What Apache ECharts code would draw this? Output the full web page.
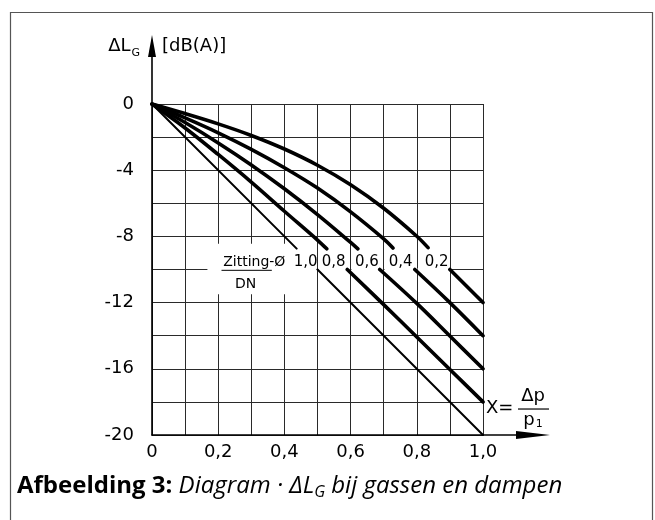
<!DOCTYPE html>
<html><head><meta charset="utf-8">
<script src="https://cdn.jsdelivr.net/npm/echarts@6/dist/echarts.min.js"></script>
<style>html,body{margin:0;padding:0;background:#fff}#c{width:655px;height:520px}</style>
</head><body><div id="c"></div>
<script>
// ---- data ----
const xLabelValues = [0, 0.2, 0.4, 0.6, 0.8, 1.0];
const xLabels = ['0', '0,2', '0,4', '0,6', '0,8', '1,0'];
const yLabelValues = [0, -4, -8, -12, -16, -20];
const yLabels = ['0', '-4', '-8', '-12', '-16', '-20'];
const ratioNames = ['1,0', '0,8', '0,6', '0,4', '0,2'];
const ratioLabelX = [0.464, 0.549, 0.649, 0.751, 0.860];
const ratioLabelY = -9.55;
// curves: ΔL_G [dB(A)] vs X (gap where the labels sit)
const curve10 = [[0, 0], [0.437, -8.74], [0.47, '-'], [0.5, -10], [1.0, -20]];
const curve08 = [[0, 0], [0.1, -1.45], [0.2, -3.05], [0.3, -4.72], [0.4, -6.48], [0.5, -8.22], [0.528, -8.75], [0.56, '-'], [0.59, -10], [0.7, -12.12], [0.8, -14.08], [0.9, -16.04], [1.0, -18]];
const curve06 = [[0, 0], [0.1, -1.12], [0.2, -2.35], [0.3, -3.68], [0.4, -5.12], [0.5, -6.68], [0.6, -8.36], [0.622, -8.75], [0.65, '-'], [0.688, -10], [0.8, -12.05], [0.9, -14.02], [1.0, -16]];
const curve04 = [[0, 0], [0.1, -0.84], [0.2, -1.74], [0.3, -2.74], [0.4, -3.85], [0.5, -5.08], [0.6, -6.52], [0.7, -8.15], [0.728, -8.7], [0.76, '-'], [0.794, -10], [0.9, -12], [1.0, -14]];
const curve02 = [[0, 0], [0.1, -0.58], [0.2, -1.2], [0.3, -1.9], [0.4, -2.72], [0.5, -3.7], [0.6, -4.88], [0.7, -6.3], [0.8, -7.99], [0.834, -8.68], [0.87, '-'], [0.9, -10], [1.0, -12]];

const FONT = 'DejaVu Sans';
function pick(v, vals, labs) {
  for (let i = 0; i < vals.length; i++) if (Math.abs(v - vals[i]) < 1e-6) return labs[i];
  return '';
}
const chart = echarts.init(document.getElementById('c'), null, {renderer: 'canvas'});
const curves = [
  {d: curve10, w: 2, sm: 0},
  {d: curve08, w: 3.6, sm: 0.35},
  {d: curve06, w: 3.6, sm: 0.35},
  {d: curve04, w: 3.6, sm: 0.35},
  {d: curve02, w: 3.6, sm: 0.35}
];
const option = {
  animation: false,
  grid: {left: 152, top: 104, width: 331, height: 331, containLabel: false},
  xAxis: {
    type: 'value', min: 0, max: 1, interval: 0.1,
    axisLine: {show: true, onZero: false, lineStyle: {color: '#000', width: 1.6}},
    axisTick: {show: false},
    splitLine: {show: true, lineStyle: {color: '#2a2a2a', width: 1}},
    axisLabel: {formatter: v => pick(v, xLabelValues, xLabels), color: '#000', fontFamily: FONT, fontSize: 18, margin: 8, showMinLabel: true, showMaxLabel: true}
  },
  yAxis: {
    type: 'value', min: -20, max: 0, interval: 2,
    axisLine: {show: true, onZero: false, lineStyle: {color: '#000', width: 1.6}},
    axisTick: {show: false},
    splitLine: {show: true, lineStyle: {color: '#2a2a2a', width: 1}},
    axisLabel: {formatter: v => pick(v, yLabelValues, yLabels), color: '#000', fontFamily: FONT, fontSize: 18, margin: 18, showMinLabel: true, showMaxLabel: true}
  },
  series: curves.map(c => ({
    type: 'line', data: c.d, symbol: 'none', showSymbol: false, smooth: c.sm, connectNulls: false,
    lineStyle: {color: '#000', width: c.w, cap: 'round', join: 'round'}, z: 3, silent: true
  }))
};
chart.setOption(option);

const P = (x, y) => chart.convertToPixel({xAxisIndex: 0, yAxisIndex: 0}, [x, y]);
const els = [];
function txt(text, x, y, size, align, extra) {
  els.push(Object.assign({type: 'text', z: 20, style: {text, x, y, fill: '#000', fontFamily: FONT, fontSize: size,
    align: align || 'center', verticalAlign: 'middle', textAlign: align || 'center', textVerticalAlign: 'middle'}}, extra || {}));
}
// border
els.push({type: 'rect', z: 20, shape: {x: 10.5, y: 12.5, width: 642, height: 530}, style: {fill: 'none', stroke: '#555', lineWidth: 1.2}});
// axis extensions and arrows
const o = P(0, 0), b1 = P(1, -20);
els.push({type: 'line', z: 20, shape: {x1: b1[0], y1: b1[1], x2: b1[0] + 36, y2: b1[1]}, style: {stroke: '#000', lineWidth: 1.6}});
els.push({type: 'polygon', z: 20, shape: {points: [[b1[0] + 33, b1[1] - 4], [b1[0] + 67, b1[1]], [b1[0] + 33, b1[1] + 4]]}, style: {fill: '#000'}});
els.push({type: 'line', z: 20, shape: {x1: o[0], y1: o[1], x2: o[0], y2: o[1] - 50}, style: {stroke: '#000', lineWidth: 1.6}});
els.push({type: 'polygon', z: 20, shape: {points: [[o[0] - 4, o[1] - 47], [o[0], o[1] - 69], [o[0] + 4, o[1] - 47]]}, style: {fill: '#000'}});
// white cover for the label area (breaks the grid lines)
const zA = P(0.172, -8.45), zB = P(0.418, -11.5);
els.push({type: 'rect', z: 1, shape: {x: zA[0], y: zA[1], width: zB[0] - zA[0], height: zB[1] - zA[1]}, style: {fill: '#fff'}});
const cuts = [0.165, 0.2, 0.3, 0.4, 0.5, 0.6, 0.7, 0.8, 0.9, 0.905];
for (let i = 0; i < cuts.length - 1; i++) {
  const a = P(cuts[i], -10), c = P(cuts[i + 1], -10);
  els.push({type: 'rect', z: 1, shape: {x: a[0] + 0.8, y: a[1] - 1.5, width: c[0] - a[0] - 1.6, height: 3}, style: {fill: '#fff'}});
}
// ratio labels
ratioNames.forEach((n, i) => { const p = P(ratioLabelX[i], ratioLabelY); txt(n, p[0], p[1], 15); });
// Zitting-Ø / DN
const zt = P(0.309, -9.55);
txt('Zitting-Ø', zt[0], zt[1], 14);
const ul1 = P(0.21, -10.05), ul2 = P(0.362, -10.05);
els.push({type: 'line', z: 20, shape: {x1: ul1[0], y1: ul1[1], x2: ul2[0], y2: ul2[1]}, style: {stroke: '#000', lineWidth: 1}});
const dn = P(0.283, -10.9);
txt('DN', dn[0], dn[1], 14);
// y axis title
els.push({type: 'text', z: 20, style: {text: '{a|ΔL}{s|G}', x: o[0] - 12, y: o[1] - 58, align: 'right', verticalAlign: 'middle', textAlign: 'right', textVerticalAlign: 'middle',
  rich: {a: {fontFamily: FONT, fontSize: 18, fill: '#000', color: '#000', lineHeight: 24}, s: {fontFamily: FONT, fontSize: 11, fill: '#000', color: '#000', padding: [14, 0, 0, 1]}}}});
txt('[dB(A)]', o[0] + 10, o[1] - 58, 18, 'left');
// X = Δp / p1
const xr = P(1, -18.37);
txt('X=', xr[0] + 3, xr[1], 18, 'left');
els.push({type: 'line', z: 20, shape: {x1: xr[0] + 35, y1: xr[1] + 1, x2: xr[0] + 66, y2: xr[1] + 1}, style: {stroke: '#000', lineWidth: 1.2}});
txt('Δp', xr[0] + 50, xr[1] - 12, 18);
els.push({type: 'text', z: 20, style: {text: '{a|p}{s|1}', x: xr[0] + 50, y: xr[1] + 12, align: 'center', verticalAlign: 'middle', textAlign: 'center', textVerticalAlign: 'middle',
  rich: {a: {fontFamily: FONT, fontSize: 18, fill: '#000', color: '#000', lineHeight: 20}, s: {fontFamily: FONT, fontSize: 11, fill: '#000', color: '#000', padding: [9, 0, 0, 1]}}}});
// caption
els.push({type: 'text', z: 20, style: {text: '{b|Afbeelding 3:}{i| Diagram · ΔL}{s|G}{i| bij gassen en dampen}', x: 17, y: 486, align: 'left', verticalAlign: 'middle', textAlign: 'left', textVerticalAlign: 'middle',
  rich: {
    b: {fontFamily: 'Open Sans', fontWeight: 'bold', fontSize: 24, fill: '#000', color: '#000', lineHeight: 32},
    i: {fontFamily: 'Open Sans', fontStyle: 'italic', fontSize: 24, fill: '#000', color: '#000', lineHeight: 32},
    s: {fontFamily: 'Open Sans', fontStyle: 'italic', fontSize: 16, fill: '#000', color: '#000', padding: [13, 0, 0, 0]}
  }}});
chart.setOption({graphic: {elements: els}});
</script>
</body></html>
